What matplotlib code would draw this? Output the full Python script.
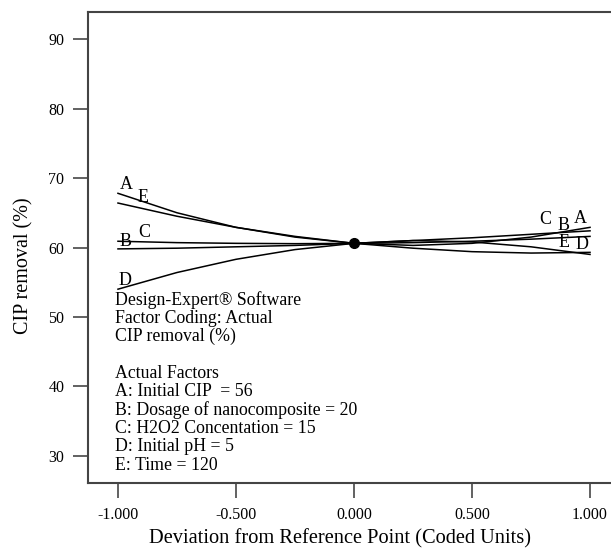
import numpy as np
import matplotlib
matplotlib.use("Agg")
import matplotlib.pyplot as plt

plt.rcParams["font.family"] = ["Liberation Serif", "DejaVu Serif"]

# coded deviation from reference point
dev = [-1.0, -0.75, -0.5, -0.25, 0.0, 0.25, 0.5, 0.75, 1.0]

# CIP removal (%)
curve_A = [67.8, 65.0, 62.9, 61.5, 60.6, 60.3, 60.6, 61.5, 62.9]
curve_B = [59.8, 59.9, 60.1, 60.3, 60.6, 61.0, 61.4, 61.9, 62.4]
curve_C = [60.9, 60.7, 60.6, 60.55, 60.6, 60.7, 60.9, 61.2, 61.6]
curve_D = [54.0, 56.4, 58.3, 59.7, 60.6, 61.0, 60.8, 60.1, 59.0]
curve_E = [66.4, 64.5, 62.9, 61.6, 60.6, 59.9, 59.4, 59.2, 59.3]

curves = {"A": curve_A, "B": curve_B, "C": curve_C, "D": curve_D, "E": curve_E}

# label anchor points (x, y) at both ends of curves
left_labels = {"A": (-0.966, 69.1), "E": (-0.894, 67.2), "B": (-0.97, 60.9),
               "C": (-0.89, 62.2), "D": (-0.97, 55.2)}
right_labels = {"C": (0.81, 64.0), "B": (0.886, 63.1), "A": (0.958, 64.2),
                "E": (0.89, 60.7), "D": (0.966, 60.4)}

info_lines = ["Design-Expert\u00ae Software", "Factor Coding: Actual", "CIP removal (%)", "",
              "Actual Factors", "A: Initial CIP  = 56", "B: Dosage of nanocomposite = 20",
              "C: H2O2 Concentation = 15", "D: Initial pH = 5", "E: Time = 120"]

xticks = [-1.0, -0.5, 0.0, 0.5, 1.0]
xtick_labels = ["-1.000", "-0.500", "0.000", "0.500", "1.000"]
yticks = [30, 40, 50, 60, 70, 80, 90]

fig = plt.figure(figsize=(6.11, 5.48), dpi=100)
ax = fig.add_axes([88 / 611, 1 - 483 / 548, 532 / 611, 471 / 548])

for name, vals in curves.items():
    ax.plot(dev, vals, color="black", lw=1.1)

ax.plot([0], [60.6], "o", color="black", ms=7)

for name, (x, y) in left_labels.items():
    ax.text(x, y, name, fontsize=13, ha="center", va="center")
for name, (x, y) in right_labels.items():
    ax.text(x, y, name, fontsize=13, ha="center", va="center")

y0 = 52.5
step = 2.65
for i, line in enumerate(info_lines):
    ax.text(-1.013, y0 - i * step, line, fontsize=12.8, ha="left", va="center")

ax.set_xlim(-1.127, 1.127)
ax.set_ylim(26.1, 93.9)
ax.set_xticks(xticks)
ax.set_xticklabels(xtick_labels)
ax.set_yticks(yticks)
ax.tick_params(direction="out", length=11, width=1.3, color="#555555",
               labelsize=11.5, pad=6)

for side in ["left", "bottom", "top"]:
    ax.spines[side].set_color("#444444")
    ax.spines[side].set_linewidth(1.5)
ax.spines["right"].set_visible(False)

ax.set_xlabel("Deviation from Reference Point (Coded Units)", fontsize=14.7)
ax.set_ylabel("CIP removal (%)", fontsize=14.5)
ax.xaxis.set_label_coords(0.474, -0.097)
ax.yaxis.set_label_coords(-0.103, 0.461)

fig.savefig("out.png", dpi=100)
